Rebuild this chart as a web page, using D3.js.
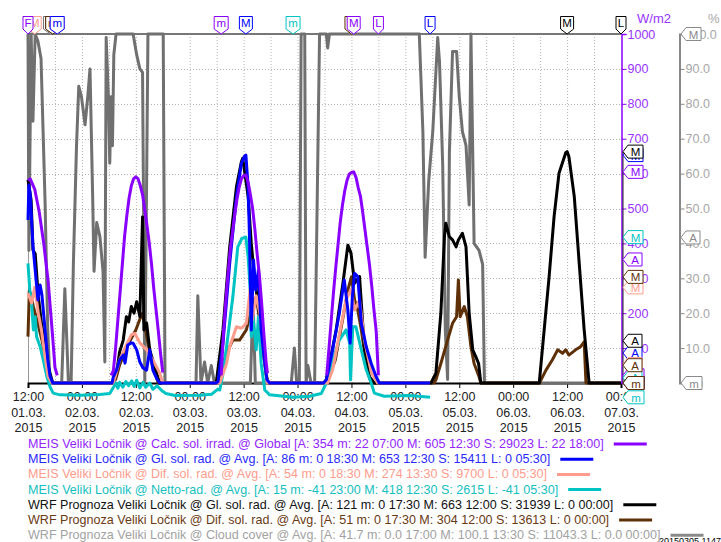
<!DOCTYPE html>
<html>
<head>
<meta charset="utf-8">
<script src="https://cdn.jsdelivr.net/npm/d3@7"></script>
<style>
body { margin: 0; background: #fff; }
svg { display: block; font-family: "Liberation Sans", Arial, sans-serif; }
</style>
</head>
<body>
<div id="chart"></div>
<script>
// time is given in hours after 01.03.2015 12:00, values in W/m2 (cloud cover in %)
const calcGlobal = [
  [0,580],[0.5,585],[1.5,555],[2.5,490],[3.5,400],[4.5,290],[5.5,130],[6,45],[6.5,22], null,
  [18.5,22],[19,35],[19.5,100],[20,180],[20.5,260],[21,340],[21.5,420],[22,480],[22.5,530],[23,565],[23.5,585],[24,591],[24.5,585],[25,565],[25.5,540],[26,495],[26.5,450],[27,400],[27.5,340],[28,270],[28.5,210],[29,150],[29.5,85],[30,30], null,
  [43,22],[43.5,140],[44,230],[44.5,310],[45,380],[45.5,430],[46,480],[46.5,525],[47,560],[47.5,585],[48,594],[48.5,596],[49,575],[49.5,540],[50,500],[50.5,440],[51,370],[51.5,310],[52,230],[52.5,140],[53,60],[53.3,28], null,
  [66.5,22],[67,100],[67.5,180],[68,260],[68.5,330],[69,395],[69.5,460],[70,510],[70.5,550],[71,580],[71.5,598],[72,603],[72.5,605],[73,590],[73.5,560],[74,535],[74.5,490],[75,440],[75.5,390],[76,340],[76.5,280],[77,210],[77.5,150],[78,22]
];
const glSolRad = [
  [0,467],[0.2,567],[0.5,540],[1.1,395],[1.8,295],[2.2,238],[2.7,281],[3.1,252],[3.8,152],[4.4,66],[4.9,20],[5.5,0],
  [18.7,0],[19,18],[19.7,37],[20.4,66],[21.2,80],[21.6,57],[22.2,109],[23,115],[23.4,114],[24.2,95],[24.9,60],[25.6,43],[26.4,37],[27.1,95],[27.8,37],[28.6,14],[29.3,0],
  [41.8,0],[42.3,4],[43.4,114],[44.9,343],[46.4,534],[47.5,629],[48.2,650],[48.5,653],[49,562],[49.3,419],[49.7,152],[50.2,352],[50.7,266],[51.3,324],[51.9,152],[52.7,57],[53.2,9],[53.8,0],
  [65.8,0],[66.4,9],[67.8,95],[69.3,200],[70.4,295],[71.2,209],[71.7,114],[72.2,247],[72.7,314],[73.4,305],[74.2,171],[75.3,104],[76.4,56],[77.5,18],[78.2,0],[89.5,0]
];
const difSolRad = [
  [0,257],[0.8,229],[1.5,274],[2.3,200],[3,152],[3.8,75],[4.5,18],[5.3,0],
  [18.9,0],[19.3,14],[20.4,66],[21.9,109],[23,138],[23.8,142],[24.9,115],[26.4,95],[27.8,66],[29.3,29],[30,0],
  [42.7,0],[44.2,56],[44.9,104],[46.4,161],[47.5,157],[48.6,171],[49.5,274],[49.9,180],[50.8,250],[51.6,200],[52.7,57],[53.3,0],
  [66.7,0],[67.8,37],[69.3,138],[70.8,238],[71.9,268],[72.7,209],[73.8,238],[74.9,123],[76.4,31],[77.8,0],[89.5,0]
];
const nettoRad = [
  [0,343],[0.4,266],[0.8,229],[1.2,152],[1.6,190],[1.9,133],[2.7,104],[3.4,66],[4.2,18],[4.9,-11],[5.6,-29],[7.1,-34],[11.6,-35],[16,-33],[18.2,-30],[19.6,0],
  [20,-15],[20.4,2],[21.1,-12],[21.8,4],[22.4,-8],[23.1,6],[23.6,-10],[24.2,8],[24.9,-14],[25.6,2],[26.2,-12],[27.1,0],[27.8,-18],[28.7,-8],[29.8,-22],[30.7,-30],[32.7,-36],[38.2,-35],[40.9,-32],[42.2,-18],
  [42.7,-20],[43.3,20],[44.2,104],[45.6,247],[46.7,390],[47.6,414],[48.5,418],[49,362],[49.5,258],[49.7,133],[50.1,190],[50.8,95],[51.3,190],[51.9,56],[52.7,-20],[53.8,-34],[59,-41],[62.7,-38],[65.3,-30],
  [66.4,0],[67.8,66],[69.3,123],[70.8,152],[71.6,114],[71.8,9],[72.3,161],[73,161],[74.2,95],[75.3,37],[76.4,0],[77.1,-29],[79.3,-38],[84.9,-36],[89.5,-41]
];
const wrfGlSolRad = [
  [0,582],[0.7,524],[1.1,381],[1.6,370],[2.3,247],[3,171],[3.8,104],[4.5,47],[5.5,0],
  [18.7,0],[19.8,37],[20.4,89],[21.2,123],[21.9,190],[22.4,175],[23,219],[23.6,200],[24.2,233],[24.9,190],[25.5,476],[25.8,152],[26.4,172],[27.1,95],[28.6,29],[29.3,0],
  [41.9,0],[43.4,152],[44.9,390],[46.4,562],[47.5,634],[47.8,644],[49,534],[49.7,400],[50.4,305],[51.6,190],[52.3,95],[53.2,9],[53.6,0],
  [65.8,0],[66.4,9],[68.6,152],[70.1,286],[71.2,395],[71.9,372],[72.7,286],[73.8,305],[74.9,95],[76,18],[77.1,0],
  [89.7,0],[90.8,28],[91.9,200],[92.7,419],[93,458],[93.8,419],[94.5,410],[95.3,390],[95.8,410],[96.7,429],[97.5,390],[98.2,200],[99,95],[99.7,75],[100.3,56],[100.8,0],
  [113.8,0],[114.9,152],[116,305],[117.1,476],[118.2,601],[119.7,660],[120,663],[120.4,649],[121.6,534],[122.7,343],[123.8,152],[124.9,0],[132,0]
];
const wrfDifSolRad = [
  [0,133],[0.3,266],[0.7,247],[1.2,219],[2,180],[3.1,123],[4.1,57],[4.9,18],[5.5,0],
  [18.7,0],[19.5,10],[20.4,52],[22.2,109],[24,152],[25,186],[25.5,200],[26.2,150],[27.5,60],[29,0],
  [42.2,0],[44.2,86],[45.6,123],[47.1,123],[48.6,152],[49.7,209],[50.8,247],[51.9,152],[53.1,18],[53.5,0],
  [66.5,0],[68.4,66],[70,180],[71.2,266],[72,304],[72.7,238],[73.4,209],[74.2,152],[75.5,37],[76.4,0],
  [90.4,0],[90.8,9],[91.9,56],[93.4,123],[94.5,171],[95.4,190],[95.8,295],[96.2,190],[97.1,219],[97.8,190],[98.6,104],[99.3,56],[100.4,18],[100.8,0],
  [113.9,0],[114.2,9],[115.3,37],[116.7,66],[117.9,95],[119,85],[119.7,95],[120.4,80],[121.9,95],[123,104],[123.8,118],[124.2,0],[132,0]
];
const cloudCover = [
  [0,100],[0.2,38],[0.7,100],[1.1,75],[1.6,100],[2.2,98],[2.9,93],[3.8,52],[4.4,15],[4.9,0],[7.5,0],[8.2,27],[9,0],[9.6,0],
  [10.1,34],[10.8,68],[11.3,85],[11.9,82],[12.7,74],[13.3,82],[13.8,90],[14.4,53],[14.7,32],[15.3,46],[16,42],[16.7,32],[17.1,6],
  [17.4,99],[17.9,82],[18.2,63],[18.5,82],[18.8,68],[19.1,94],[19.6,100],[23.4,100],[24.2,94],[24.9,90],[25.5,89],[26,0],[26.7,100],[30.1,100],[30.5,0],
  [37.4,0],[37.8,25],[38.5,0],[39.3,6],[40,0],[40.8,5],[41.5,0],[49.5,0],[50.1,24],[50.6,0],
  [58.6,0],[59.3,10],[59.8,0],[60.4,0],[60.8,100],[61.6,100],[61.9,0],[62.3,5],[63,0],[63.8,0],[64.9,100],[66.4,100],[66.7,96],[67.1,100],
  [87.1,100],[87.9,72],[88.4,36],[89.2,58],[90.1,72],[91.2,99],[91.6,92],[92.3,63],[92.9,15],[93.4,1],[93.8,66],[94.5,95],[95.4,95],[96,82],[96.7,72],[97.5,68],[98.2,51],[98.6,100],[99.3,40],[100.4,38],[101.2,34],[101.6,0],[132,0]
];

const seriesNames = [
  "MEIS Veliki Ločnik @ Calc. sol. irrad. @ Global [A: 354 m: 22 07:00 M: 605 12:30 S: 29023 L: 22 18:00]",
  "MEIS Veliki Ločnik @ Gl. sol. rad. @ Avg. [A: 86 m: 0 18:30 M: 653 12:30 S: 15411 L: 0 05:30]",
  "MEIS Veliki Ločnik @ Dif. sol. rad. @ Avg. [A: 54 m: 0 18:30 M: 274 13:30 S: 9700 L: 0 05:30]",
  "MEIS Veliki Ločnik @ Netto-rad. @ Avg. [A: 15 m: -41 23:00 M: 418 12:30 S: 2615 L: -41 05:30]",
  "WRF Prognoza Veliki Ločnik @ Gl. sol. rad. @ Avg. [A: 121 m: 0 17:30 M: 663 12:00 S: 31939 L: 0 00:00]",
  "WRF Prognoza Veliki Ločnik @ Dif. sol. rad. @ Avg. [A: 51 m: 0 17:30 M: 304 12:00 S: 13613 L: 0 00:00]",
  "WRF Prognoza Veliki Ločnik @ Cloud cover @ Avg. [A: 41.7 m: 0.0 17:00 M: 100.1 13:30 S: 11043.3 L: 0.0 00:00]"
];
const seriesData = [calcGlobal, glSolRad, difSolRad, nettoRad, wrfGlSolRad, wrfDifSolRad, cloudCover];
const lineColors = ["#8a00ff", "#0000ff", "#ff9c8c", "#00c4c4", "#000000", "#5e3008", "#707070"];
const textColors = ["#9326ff", "#2a2aff", "#ff9c8c", "#14c0c0", "#111111", "#6a3a14", "#a2a2a2"];
const swatchColors = ["#8a00ff", "#0000ff", "#ff9c8c", "#00c4c4", "#000000", "#5e3008", "#8a8a8a"];

// min / max / last flags along the top (series index, letter, hour)
const topTagSeries = [6, 4, 5, 2, 1, 2, 0, 0, 1, 3, 5, 0, 0, 1, 4, 4];
const topTagLetters = ["m", "m", "m", "m", "m", "M", "F", "m", "M", "m", "M", "M", "L", "L", "M", "L"];
const topTagHours = [5, 5.5, 5.5, 6.5, 6.5, 1.5, 0, 43, 48.5, 59, 72, 72.5, 78, 89.5, 120, 132];

// min / max / average flags on the value axes
const sideTagSeries = [0, 0, 0, 1, 1, 1, 2, 2, 2, 3, 3, 3, 4, 4, 4, 5, 5, 5];
const sideTagLetters = ["m", "M", "A", "m", "M", "A", "m", "M", "A", "m", "M", "A", "m", "M", "A", "m", "M", "A"];
const sideTagValues = [22, 605, 354, 0, 653, 86, 0, 274, 54, -41, 418, 15, 0, 663, 121, 0, 304, 51];
const cloudTagLetters = ["m", "A", "M"];
const cloudTagValues = [0, 41.7, 100];

const wTicks = d3.range(100, 1001, 100);
const pctTicks = d3.range(0, 101, 10);

const W = 721, H = 542;
const t0 = new Date(2015, 2, 1, 12);
const at = h => new Date(+t0 + h * 3600e3);

const x = d3.scaleTime().domain([at(0), at(132)]).range([28, 621]);
const yW = d3.scaleLinear().domain([0, 1000]).range([383, 34]);
const yP = d3.scaleLinear().domain([0, 100]).range([383, 34]);

const svg = d3.select("#chart").append("svg")
  .attr("width", W)
  .attr("height", H);

svg.append("rect").attr("width", W).attr("height", H).attr("fill", "#fff");

// grid
const grid = svg.append("g").attr("stroke", "#b4b4b4").attr("stroke-dasharray", "1,2");
grid.selectAll(".gv")
  .data(x.ticks(d3.timeHour.every(6)).filter(d => d > at(0) && d < at(132)))
  .join("line")
  .attr("x1", d => x(d) + 0.5).attr("x2", d => x(d) + 0.5)
  .attr("y1", 34).attr("y2", 383);
grid.selectAll(".gh")
  .data(wTicks.filter(d => d < 1000))
  .join("line")
  .attr("x1", 28).attr("x2", 621)
  .attr("y1", d => Math.round(yW(d)) + 0.5).attr("y2", d => Math.round(yW(d)) + 0.5);

// frame
svg.append("line").attr("x1", 28).attr("x2", 621).attr("y1", 34).attr("y2", 34)
  .attr("stroke", "#777").attr("stroke-width", 2);
svg.append("line").attr("x1", 28.5).attr("x2", 28.5).attr("y1", 34).attr("y2", 383)
  .attr("stroke", "#999");

// x axis
const xAxis = svg.append("g")
  .attr("transform", "translate(0,383)")
  .call(d3.axisBottom(x).ticks(d3.timeHour.every(12)).tickSize(5).tickFormat(""));
xAxis.select(".domain").attr("stroke", "#000").attr("stroke-width", 2);
xAxis.selectAll(".tick line").attr("stroke", "#000");
const fmtLines = [d3.timeFormat("%H:%M"), d3.timeFormat("%d.%m."), d3.timeFormat("%Y")];
xAxis.selectAll(".tick").each(function(d) {
  const t = d3.select(this).select("text")
    .attr("y", 0).attr("dy", null)
    .attr("fill", "#222").style("font-size", "12.5px");
  fmtLines.forEach((f, i) => {
    t.append("tspan").attr("x", 0).attr("y", 18 + i * 15.5).text(f(d));
  });
});

// lines, drawn back to front
const order = [6, 5, 4, 3, 2, 1, 0];
order.forEach(i => {
  const yy = i === 6 ? yP : yW;
  const line = d3.line()
    .defined(d => d !== null)
    .x(d => x(at(d[0])))
    .y(d => yy(d[1]));
  svg.append("path")
    .datum(seriesData[i])
    .attr("fill", "none")
    .attr("stroke", lineColors[i])
    .attr("stroke-width", 3)
    .attr("stroke-linejoin", "round")
    .attr("d", line);
});

// W/m2 axis
const wAxis = svg.append("g")
  .attr("transform", "translate(621.5,0)")
  .call(d3.axisRight(yW).tickValues(wTicks).tickSize(5).tickPadding(1).tickFormat(d3.format("d")));
wAxis.select(".domain").attr("stroke", "#8a00ff").attr("stroke-width", 1.5);
wAxis.selectAll(".tick line").attr("stroke", "#8a00ff");
wAxis.selectAll(".tick text").attr("fill", "#9933ff").style("font-size", "12.5px")
  .style("font-family", "'Liberation Sans', Arial, sans-serif");
svg.append("line").attr("x1", 623).attr("x2", 623)
  .attr("y1", yW(663)).attr("y2", 383).attr("stroke", "#222").attr("stroke-width", 1);

// % axis
const pAxis = svg.append("g")
  .attr("transform", "translate(679.5,0)")
  .call(d3.axisRight(yP).tickValues(pctTicks).tickSize(5).tickPadding(1).tickFormat(d3.format(".1f")));
pAxis.select(".domain").attr("stroke", "#888").attr("stroke-width", 2);
pAxis.selectAll(".tick line").attr("stroke", "#888");
pAxis.selectAll(".tick text").attr("fill", "#a6a6a6").style("font-size", "12.5px")
  .style("font-family", "'Liberation Sans', Arial, sans-serif");

svg.append("text").attr("x", 637).attr("y", 23).attr("fill", "#9933ff")
  .style("font-size", "13px").text("W/m2");
svg.append("text").attr("x", 708).attr("y", 23).attr("fill", "#a6a6a6")
  .style("font-size", "13px").text("%");

// flags
const letterW = { m: 14, M: 13, A: 12, L: 10, F: 10 };

const topG = svg.append("g");
topTagSeries.forEach((s, k) => {
  const cx = x(at(topTagHours[k]));
  const w = letterW[topTagLetters[k]];
  const g = topG.append("g");
  g.append("path")
    .attr("d", `M${cx - w / 2},16.5H${cx + w / 2}V29L${cx},34L${cx - w / 2},29Z`)
    .attr("fill", "#fff").attr("stroke", lineColors[s]);
  g.append("text").attr("x", cx).attr("y", 27).attr("text-anchor", "middle")
    .attr("fill", lineColors[s]).style("font-size", "11.5px").text(topTagLetters[k]);
});

function sideTag(tipX, yv, letter, color) {
  const w = letterW[letter] + 2;
  const g = svg.append("g");
  g.append("path")
    .attr("d", `M${tipX},${yv}L${tipX + 5},${yv - 6.5}H${tipX + 5 + w}V${yv + 6.5}H${tipX + 5}Z`)
    .attr("fill", "#fff").attr("stroke", color);
  g.append("text").attr("x", tipX + 5 + w / 2).attr("y", yv + 4.5).attr("text-anchor", "middle")
    .attr("fill", color).style("font-size", "11.5px").text(letter);
}
sideTagSeries.forEach((s, k) => sideTag(623, yW(sideTagValues[k]), sideTagLetters[k], lineColors[s]));
cloudTagValues.forEach((v, k) => sideTag(681, yP(v), cloudTagLetters[k], "#8a8a8a"));

// legend
const legend = svg.append("g").attr("class", "legend");
seriesNames.forEach((name, i) => {
  const yy = 448 + i * 15.2;
  const t = legend.append("text")
    .attr("x", 28).attr("y", yy)
    .attr("fill", textColors[i])
    .style("font-size", "12.55px")
    .text(name);
  const tw = t.node().getComputedTextLength();
  legend.append("line")
    .attr("x1", 28 + tw + 10).attr("x2", 28 + tw + 43)
    .attr("y1", yy - 4).attr("y2", yy - 4)
    .attr("stroke", swatchColors[i]).attr("stroke-width", 3);
});

svg.append("text").attr("x", 659).attr("y", 544).attr("fill", "#000")
  .style("font-size", "9px").text("20150305 1147");
</script>
</body>
</html>
